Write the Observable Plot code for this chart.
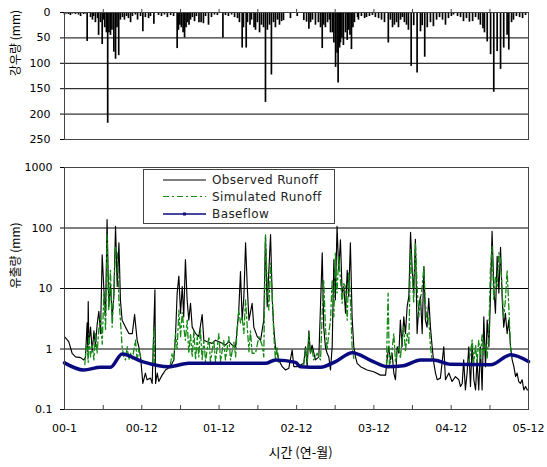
<!DOCTYPE html>
<html><head><meta charset="utf-8">
<script src="https://cdn.jsdelivr.net/npm/d3@7"></script>
<script src="https://cdn.jsdelivr.net/npm/@observablehq/plot@0.6"></script>
<style>
body{margin:0;background:#fff;}
#wrap{position:relative;width:547px;height:467px;background:#fff;overflow:hidden;}
#wrap > svg{position:absolute;left:0;}
#legend{position:absolute;left:143px;top:169px;width:192px;height:55px;border:1px solid #444;background:#fff;box-sizing:border-box;}
#legend svg{position:absolute;left:0;top:0;}
</style></head><body><div id="wrap"><div id="legend"></div></div>
<script>
// ---- data (x = days since 2000-01-01) ----
const rainEvents = [[0,5],[9,3],[19,4],[28,6],[38,3],[52,4],[66,5],[76,8],[90,4],[99,3],[107,57],[123,10],[132,15],[137,8],[146,20],[156,12],[161,45],[170,20],[178,63],[184,15],[190,30],[198,40],[204,218],[210,40],[217,45],[224,35],[233,78],[241,92],[248,30],[256,85],[264,15],[274,10],[283,15],[293,8],[302,12],[312,20],[321,8],[335,5],[345,15],[359,8],[370,38],[382,10],[397,12],[406,8],[422,23],[444,6],[458,8],[472,5],[486,10],[501,6],[515,8],[532,71],[538,35],[545,25],[552,30],[560,40],[567,50],[574,30],[581,20],[588,25],[595,15],[604,10],[614,18],[623,8],[635,20],[645,20],[656,22],[666,8],[680,25],[694,10],[708,5],[722,6],[748,50],[760,6],[774,8],[789,5],[803,10],[817,12],[826,20],[839,70],[845,30],[858,70],[864,20],[876,25],[883,15],[895,30],[902,35],[911,20],[921,40],[930,25],[940,30],[949,177],[958,35],[968,25],[977,123],[987,20],[996,30],[1006,15],[1015,25],[1025,18],[1034,16],[1067,12],[1099,8],[1130,16],[1143,19],[1154,33],[1162,20],[1171,15],[1185,25],[1199,20],[1209,30],[1217,71],[1224,25],[1232,30],[1242,20],[1251,15],[1256,40],[1265,40],[1272,60],[1280,108],[1287,80],[1292,139],[1299,70],[1303,60],[1310,50],[1317,65],[1327,40],[1335,55],[1341,35],[1348,45],[1355,73],[1362,30],[1369,20],[1384,10],[1388,15],[1402,8],[1417,12],[1426,10],[1440,8],[1454,6],[1468,10],[1483,12],[1497,15],[1511,20],[1529,60],[1539,15],[1549,30],[1558,25],[1568,20],[1577,30],[1587,15],[1596,10],[1605,20],[1615,25],[1624,35],[1637,106],[1649,26],[1665,119],[1681,38],[1689,26],[1701,88],[1713,30],[1728,20],[1742,28],[1757,15],[1771,10],[1785,15],[1799,25],[1813,12],[1827,8],[1837,5],[1856,8],[1870,10],[1884,18],[1898,12],[1912,19],[1927,18],[1941,10],[1955,15],[1964,25],[1976,32],[1983,40],[1996,58],[2012,83],[2027,157],[2043,77],[2059,112],[2074,70],[2090,45],[2098,74],[2111,20],[2120,15],[2134,8],[2149,10],[2163,12],[2177,6]];

const observedRunoff = [[0,1.6],[20,1.32],[36,0.85],[52,0.74],[76,0.72],[91,0.66],[99,0.74],[107,2.7],[110,0.9],[112,6.1],[115,1.2],[123,2.3],[131,0.9],[139,2.0],[146,1.1],[154,2.5],[162,4.2],[170,1.8],[178,36],[186,9.5],[194,3.5],[201,138],[209,5.0],[217,12],[225,3.4],[233,7.4],[241,107],[249,10.8],[257,57],[264,6.5],[272,3.0],[288,2.3],[304,1.8],[320,1.8],[331,3.7],[343,1.4],[351,1.09],[359,0.74],[370,0.27],[382,0.40],[390,0.31],[406,0.33],[414,0.27],[427,9.5],[430,0.27],[438,0.40],[445,0.29],[461,0.37],[477,0.45],[500,0.51],[516,0.66],[524,1.6],[532,8.4],[540,16],[548,3.9],[556,10.8],[563,3.4],[571,30],[579,6.5],[587,3.0],[595,5.7],[603,2.3],[619,1.8],[634,1.6],[650,3.7],[658,1.4],[674,1.32],[697,1.24],[713,1.4],[729,1.32],[745,1.24],[760,1.16],[776,1.32],[792,1.16],[808,1.09],[823,4.4],[831,19],[839,3.0],[847,7.4],[855,57],[863,10.8],[871,3.0],[886,5.7],[894,2.3],[910,1.6],[926,1.4],[941,3.0],[949,73],[957,5.0],[973,78],[981,6.5],[988,2.3],[996,1.09],[1012,0.66],[1028,0.51],[1044,0.45],[1059,0.48],[1075,0.96],[1083,0.51],[1098,0.51],[1130,0.58],[1138,1.09],[1146,0.51],[1154,2.0],[1161,0.85],[1169,1.16],[1185,0.66],[1201,0.74],[1217,39],[1224,2.3],[1232,1.09],[1240,0.85],[1248,0.74],[1256,0.45],[1264,1.09],[1272,30],[1279,6.5],[1287,107],[1295,20],[1303,64],[1311,8.4],[1319,10.8],[1327,3.9],[1335,20],[1342,7.4],[1350,57],[1358,3.4],[1366,1.09],[1374,0.74],[1382,0.58],[1398,0.51],[1429,0.45],[1460,0.42],[1492,0.37],[1516,0.37],[1523,0.66],[1531,1.09],[1539,0.66],[1547,0.85],[1555,0.40],[1563,0.31],[1571,1.09],[1579,0.85],[1586,3.0],[1594,1.09],[1602,3.4],[1610,1.8],[1618,5.0],[1626,7.4],[1634,85],[1642,20],[1649,8.4],[1657,65],[1665,1.8],[1673,5.0],[1681,7.4],[1689,1.8],[1697,23],[1704,3.0],[1712,2.3],[1720,6.9],[1728,2.3],[1736,1.09],[1744,0.58],[1752,0.40],[1760,0.31],[1775,0.33],[1791,1.09],[1799,0.31],[1815,0.40],[1830,0.29],[1846,0.35],[1862,0.31],[1870,0.24],[1878,0.27],[1885,0.66],[1893,0.21],[1901,0.40],[1909,1.09],[1917,0.24],[1925,1.24],[1933,0.31],[1941,0.21],[1948,0.66],[1956,0.21],[1964,1.09],[1972,0.21],[1980,3.4],[1988,0.51],[1996,3.0],[2004,1.09],[2011,6.5],[2019,88],[2027,10.8],[2035,3.9],[2043,34],[2051,8.4],[2059,48],[2067,6.5],[2074,2.3],[2082,3.9],[2090,1.8],[2098,3.0],[2106,1.09],[2114,0.66],[2122,0.51],[2130,0.35],[2137,0.40],[2145,0.29],[2153,0.27],[2161,0.31],[2169,0.21],[2177,0.24],[2185,0.21],[2191,0.21]];

// null = gap (simulated equals baseflow there)
const simulatedRunoff = [[96,0.55],[102,1.09],[107,1.16],[112,0.6],[115,1.8],[123,0.74],[131,1.16],[139,0.66],[146,1.8],[154,0.85],[162,2.1],[170,3.4],[178,1.2],[186,8.4],[194,2.0],[201,78],[209,4.4],[217,20],[225,2.3],[233,8.4],[241,50],[249,39],[257,6.5],[264,3.0],[272,1.09],[280,0.74],[288,0.66],[296,1.09],[304,0.66],[312,0.85],[320,0.66],[335,1.4],[343,0.66],[351,1.0],[364,0.62],[365,null],
[417,0.55],[422,2.3],[426,0.55],[427,null],
[500,0.55],[508,0.85],[516,0.66],[524,1.8],[532,1.0],[540,4.4],[548,1.6],[556,4.0],[563,2.3],[571,1.4],[579,3.0],[587,0.85],[595,1.8],[603,0.74],[611,2.0],[619,0.66],[627,1.6],[634,0.74],[642,2.1],[650,0.66],[658,1.4],[666,0.62],[682,1.6],[689,0.62],[705,1.4],[713,0.62],[729,1.8],[737,0.62],[752,1.4],[760,0.66],[776,1.6],[784,0.66],[800,1.3],[808,0.74],[815,2.0],[823,4.4],[831,2.7],[839,3.4],[847,1.8],[855,6.5],[863,2.3],[871,0.9],[878,2.0],[886,0.85],[902,0.85],[918,1.6],[933,1.16],[941,0.74],[949,78],[957,12.3],[965,4.4],[973,26],[981,7.4],[988,1.8],[996,0.66],[1004,1.09],[1012,0.6],[1013,null],
[1130,0.55],[1138,1.0],[1146,0.6],[1154,1.8],[1161,0.85],[1169,1.0],[1177,0.66],[1193,0.85],[1209,0.66],[1217,4.0],[1224,14],[1232,2.3],[1240,0.96],[1248,1.8],[1256,3.0],[1264,14],[1272,3.4],[1279,39],[1287,8.4],[1295,34],[1303,14],[1311,5.7],[1319,12],[1327,10.8],[1335,3.0],[1342,18],[1350,6.5],[1358,1.09],[1366,0.7],[1367,null],
[1520,0.52],[1528,8.4],[1534,0.52],[1542,0.66],[1549,1.16],[1555,1.8],[1563,0.6],[1571,0.9],[1579,1.09],[1586,0.7],[1594,1.4],[1602,2.3],[1610,0.9],[1618,1.8],[1626,1.2],[1634,44],[1642,16],[1649,5.7],[1657,57],[1665,10.8],[1673,3.4],[1681,6.5],[1689,10.8],[1697,23],[1704,5.7],[1712,3.0],[1720,3.4],[1728,1.09],[1736,0.66],[1737,null],
[1909,0.55],[1917,0.9],[1925,1.4],[1933,0.6],[1941,1.16],[1948,0.6],[1956,1.4],[1964,0.7],[1972,1.8],[1980,0.8],[1988,1.24],[1996,0.7],[2004,2.1],[2011,20],[2019,50],[2027,6.5],[2035,16],[2043,10.8],[2051,39],[2059,30],[2067,8.4],[2074,3.4],[2082,6.5],[2090,20],[2098,5.0],[2106,1.09],[2114,0.7]];

const baseflow = [[0,0.59],[91,0.45],[170,0.50],[217,0.50],[272,0.83],[367,0.62],[492,0.51],[587,0.58],[784,0.58],[949,0.58],[996,0.66],[1091,0.60],[1114,0.51],[1209,0.50],[1280,0.62],[1359,0.87],[1445,0.65],[1524,0.51],[1601,0.53],[1681,0.66],[1742,0.66],[1823,0.56],[2012,0.55],[2106,0.80],[2191,0.62]];

const seriesNames = ["Observed Runoff", "Simulated Runoff", "Baseflow"];
const halfYearTicks = [0,183,365,548,730,913,1096,1278,1461,1643,1826,2009,2191];
const yearTicks = [0,365,730,1096,1461,1826,2191];
const yearLabels = ["00-1","00-12","01-12","02-12","03-12","04-12","05-12"];
const rainTicks = [0,50,100,150,200,250];
const flowTicks = [0.1,1,10,100,1000];
const flowTickLabels = ["0.1","1","10","100","1000"];
const rainLabel = "강우량 (mm)";
const flowLabel = "유출량 (mm)";
const timeLabel = "시간 (연-월)";

// ---- build ----
const FONT = "'DejaVu Sans', sans-serif";
const KFONT = "'Noto Sans CJK KR', 'DejaVu Sans', sans-serif";
const rain = rainEvents.map(([day, mm]) => ({day, mm}));
const toRows = arr => arr.map(([day, v]) => ({day, v}));
const obs = toRows(observedRunoff), sim = toRows(simulatedRunoff), base = toRows(baseflow);
const yearLabelMap = new Map(yearTicks.map((d, i) => [d, yearLabels[i]]));
const flowLabelMap = new Map(flowTicks.map((d, i) => [d, flowTickLabels[i]]));
const COLORS = ["#000000", "#138a13", "#0a0a80"];
const wrap = document.getElementById("wrap");

// top panel: 250 mm over 127 px -> a 3 px tick is ~6 mm
const topTickLen = 6;
const topChart = Plot.plot({
  width: 547, height: 150,
  marginTop: 12, marginBottom: 11, marginLeft: 64, marginRight: 19,
  style: {fontFamily: FONT, fontSize: "11px", color: "#000", background: "transparent", overflow: "visible"},
  x: {domain: [0, 2191], axis: null},
  y: {domain: [0, 250], reverse: true},
  marks: [
    Plot.gridY(rainTicks.slice(1, -1), {stroke: "#000", strokeOpacity: 1, strokeWidth: 1}),
    Plot.ruleX(rain, {x: "day", y1: 0, y2: "mm", stroke: "#000", strokeWidth: 1.7}),
    Plot.frame({stroke: "#444"}),
    Plot.ruleX(halfYearTicks.slice(1, -1), {x: d => d, y1: 0, y2: -topTickLen, stroke: "#444"}),
    Plot.axisY(rainTicks, {tickSize: 4, tickPadding: 10, label: null, fill: "#000"}),
    Plot.text([rainLabel], {frameAnchor: "left", text: d => d, rotate: -90, dx: -48, fontFamily: KFONT, fontSize: 12, fill: "#000", style: "letter-spacing:1.5px"})
  ]
});
topChart.style.top = "0px";
wrap.appendChild(topChart);

// bottom panel: 4 decades over 242 px -> a 4 px inward tick spans factor 10^(4/60.5)
const tickTop = flowTicks[0] * Math.pow(10, 4 / 60.5);
const bottomChart = Plot.plot({
  width: 547, height: 317,
  marginTop: 17, marginBottom: 58, marginLeft: 64, marginRight: 19,
  style: {fontFamily: FONT, fontSize: "11px", color: "#000", background: "transparent", overflow: "visible"},
  x: {domain: [0, 2191]},
  y: {type: "log", domain: [0.1, 1000]},
  marks: [
    Plot.gridY([1, 10, 100], {stroke: "#000", strokeOpacity: 1, strokeWidth: 1}),
    Plot.line(obs, {x: "day", y: "v", stroke: COLORS[0], strokeWidth: 1.15}),
    Plot.line(sim, {x: "day", y: "v", stroke: COLORS[1], strokeWidth: 1.3, strokeDasharray: "6,3,2,3"}),
    Plot.line(base, {x: "day", y: "v", stroke: COLORS[2], strokeWidth: 3.5, curve: "monotone-x"}),
    Plot.frame({stroke: "#444"}),
    Plot.ruleX(halfYearTicks, {x: d => d, y1: flowTicks[0], y2: tickTop, stroke: "#444"}),
    Plot.axisY(flowTicks, {tickSize: 4, tickPadding: 8, tickFormat: d => flowLabelMap.get(d), label: null}),
    Plot.axisX(yearTicks, {tickSize: 0, tickPadding: 15, tickFormat: d => yearLabelMap.get(d), label: null}),
    Plot.text([timeLabel], {frameAnchor: "bottom", text: d => d, dy: 47, dx: 4, fontFamily: KFONT, fontSize: 13, fill: "#000", style: "letter-spacing:1px"}),
    Plot.text([flowLabel], {frameAnchor: "left", text: d => d, rotate: -90, dx: -48, fontFamily: KFONT, fontSize: 12, fill: "#000", style: "letter-spacing:1.5px"})
  ]
});
bottomChart.style.top = "150px";
wrap.appendChild(bottomChart);

// ---- legend ----
const leg = d3.select("#legend").append("svg").attr("width", 192).attr("height", 55);
const rowsY = [10, 26.5, 44];
seriesNames.forEach((name, i) => {
  const g = leg.append("g");
  const line = g.append("line").attr("x1", 19).attr("x2", 62).attr("y1", rowsY[i]).attr("y2", rowsY[i])
    .attr("stroke", COLORS[i]).attr("stroke-width", i === 2 ? 1.5 : 1.2);
  if (i === 1) line.attr("stroke-dasharray", "6,3,2,3");
  if (i === 2) g.append("rect").attr("x", 39).attr("y", rowsY[i] - 1.5).attr("width", 3).attr("height", 3).attr("fill", COLORS[2]);
  g.append("text").attr("x", 68).attr("y", rowsY[i]).attr("dy", "0.35em")
    .attr("font-family", FONT).attr("font-size", 12).attr("letter-spacing", "0.4px").attr("fill", "#222").text(name);
});
</script></body></html>
